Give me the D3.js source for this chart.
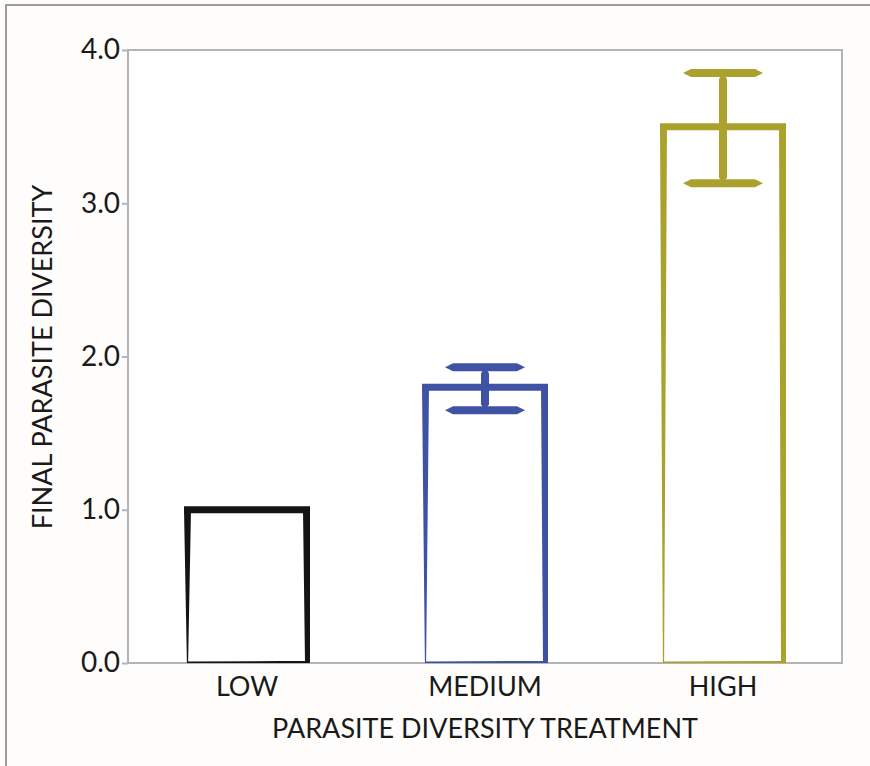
<!DOCTYPE html>
<html>
<head>
<meta charset="utf-8">
<script src="https://cdn.jsdelivr.net/npm/d3@7"></script>
<style>
  html, body { margin: 0; padding: 0; background: #fefdfb; }
  svg { display: block; }
  text { font-family: Lato, "Open Sans", sans-serif; fill: #1a1a1a; }
</style>
</head>
<body>
<svg id="chart" width="870" height="766"></svg>
<script>
// Treatment groups and their final diversity (mean with error limits)
const categories = ["LOW", "MEDIUM", "HIGH"];
const means = [1.0, 1.80, 3.50];
const upperLimits = [null, 1.93, 3.85];
const lowerLimits = [null, 1.65, 3.13];
const barColors = ["#141414", "#3f52a4", "#aaa22c"];
const yTicks = [0, 1, 2, 3, 4];

const svg = d3.select("#chart");
const W = 870, H = 766;
const plot = { left: 128, top: 50, right: 842, bottom: 663 };

// Outer figure frame (top and left edges)
svg.append("path")
  .attr("d", `M6,${H} L6,5 L${W},5`)
  .attr("fill", "none")
  .attr("stroke", "#a39a9b")
  .attr("stroke-width", 2);

svg.append("rect")
  .attr("x", plot.left).attr("y", plot.top)
  .attr("width", plot.right - plot.left).attr("height", plot.bottom - plot.top)
  .attr("fill", "#ffffff");

const x = d3.scaleBand()
  .domain(categories)
  .range([plot.left, plot.right])
  .paddingInner(0.5)
  .paddingOuter(0.25);

const y = d3.scaleLinear().domain([0, 4]).range([plot.bottom, plot.top]);

// Plot frame
svg.append("rect")
  .attr("x", plot.left).attr("y", plot.top)
  .attr("width", plot.right - plot.left).attr("height", plot.bottom - plot.top)
  .attr("fill", "none")
  .attr("stroke", "#b4b4b4")
  .attr("stroke-width", 2);

// Y axis
const yAxis = svg.append("g")
  .attr("transform", `translate(${plot.left},0)`)
  .call(d3.axisLeft(y).tickValues(yTicks).tickFormat(d3.format(".1f")).tickSize(6).tickPadding(2));
yAxis.select(".domain").remove();
yAxis.selectAll(".tick line").attr("stroke", "#b4b4b4").attr("stroke-width", 2);
yAxis.selectAll(".tick text")
  .attr("font-size", 28)
  .style("font-family", "Lato, 'Open Sans', sans-serif")
  .attr("fill", "#1a1a1a");

// X category labels
svg.append("g").selectAll("text")
  .data(categories)
  .join("text")
  .attr("x", d => x(d) + x.bandwidth() / 2)
  .attr("y", 696)
  .attr("text-anchor", "middle")
  .attr("font-size", 27)
  .text(d => d);

// Axis titles
svg.append("text")
  .attr("x", 485).attr("y", 738)
  .attr("text-anchor", "middle")
  .attr("font-size", 27)
  .text("PARASITE DIVERSITY TREATMENT");

svg.append("text")
  .attr("transform", "translate(52,357) rotate(-90)")
  .attr("text-anchor", "middle")
  .attr("font-size", 27)
  .text("FINAL PARASITE DIVERSITY");

// Hollow bar outline with slightly tapering side strokes
const sw = 7;
function barPath(x0, x1, yTop, yBase) {
  const h = sw / 2;
  return [
    `M${x0 - h},${yTop - h} L${x1 + h},${yTop - h} L${x1 + h},${yTop + h} L${x0 - h},${yTop + h} Z`,
    `M${x0 - h},${yTop} L${x0 + h},${yTop} L${x0 + 0.6},${yBase} L${x0 - 0.6},${yBase} Z`,
    `M${x1 - h},${yTop} L${x1 + h},${yTop} L${x1 + h},${yBase} L${x1 - 1.5},${yBase} Z`,
    `M${x0},${yBase - 1.4} L${x1},${yBase - 2.2} L${x1},${yBase} L${x0},${yBase} Z`
  ].join(" ");
}

// Horizontal cap with pointed ends
function capPath(cx, cy, half, thick, tip) {
  const t = thick / 2;
  return `M${cx - half},${cy} L${cx - half + tip},${cy - t} L${cx + half - tip},${cy - t} L${cx + half},${cy} L${cx + half - tip},${cy + t} L${cx - half + tip},${cy + t} Z`;
}

// Vertical stem with pointed ends
function stemPath(cx, y0, y1, w, tip) {
  const t = w / 2;
  return `M${cx},${y0} L${cx + t},${y0 + tip} L${cx + t},${y1 - tip} L${cx},${y1} L${cx - t},${y1 - tip} L${cx - t},${y0 + tip} Z`;
}

const bars = svg.append("g");
categories.forEach((c, i) => {
  const x0 = x(c), x1 = x(c) + x.bandwidth();
  const cx = x0 + x.bandwidth() / 2;
  const g = bars.append("g").attr("fill", barColors[i]);
  g.append("path").attr("d", barPath(x0, x1, y(means[i]), y(0)));
  if (upperLimits[i] != null) {
    const yu = y(upperLimits[i]), yl = y(lowerLimits[i]);
    g.append("path").attr("d", stemPath(cx, yu, yl, 8, 6));
    g.append("path").attr("d", capPath(cx, yu, 40, 8, 8));
    g.append("path").attr("d", capPath(cx, yl, 40, 8, 8));
  }
});
</script>
</body>
</html>
